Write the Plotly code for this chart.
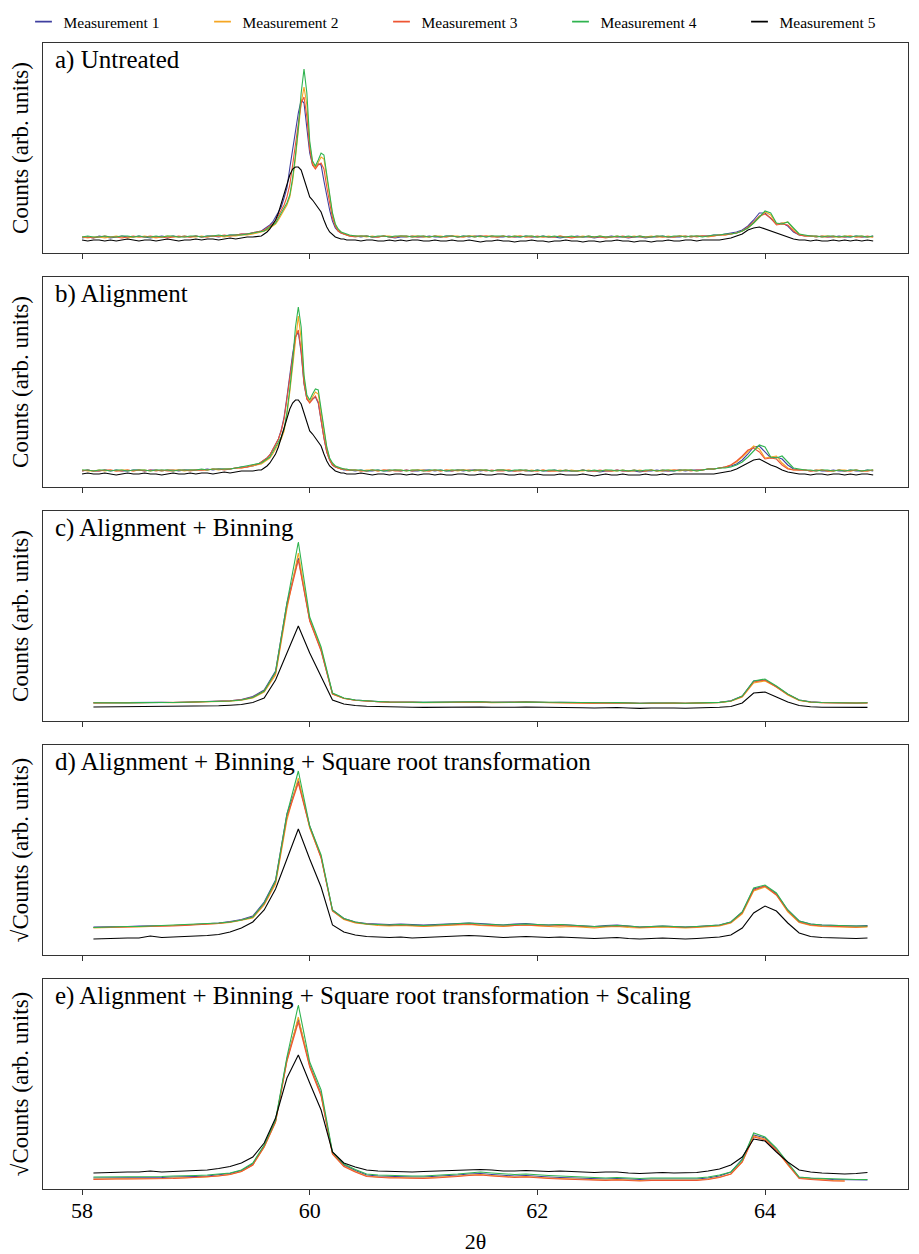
import numpy as np
import plotly.graph_objects as go

# ---------------- labels / categories ----------------
SERIES = ["Measurement 1", "Measurement 2", "Measurement 3", "Measurement 4", "Measurement 5"]
COLORS = ["#3f3f9f", "#f5a623", "#ee5533", "#2fb34f", "#000000"]
PANEL_TITLES = [
    "a) Untreated",
    "b) Alignment",
    "c) Alignment + Binning",
    "d) Alignment + Binning + Square root transformation",
    "e) Alignment + Binning + Square root transformation + Scaling",
]
Y_TITLES = ["Counts (arb. units)", "Counts (arb. units)", "Counts (arb. units)",
            "√Counts (arb. units)", "√Counts (arb. units)"]
X_TITLE = "2θ"
X_TICKS = [58, 60, 62, 64]

# 2theta grids: raw (finer around the main peak) and binned (0.1 step)
TWO_THETA_RAW = np.round(np.concatenate([
    np.arange(58.0, 59.56, 0.05),     # 32
    np.arange(59.575, 60.33, 0.025),  # 31
    np.arange(60.35, 64.96, 0.05),    # 93
]), 3)
TWO_THETA_BIN = np.round(np.arange(58.1, 64.95, 0.1), 2)  # 69

# ---------------- a) Untreated ----------------
A_M1 = ([15, 16, 15, 17, 16, 15, 16, 17, 16, 16,
         17, 16, 15, 16, 17, 16, 17, 16, 17, 16,
         17, 16, 17, 17, 16, 17, 18, 18, 19, 19,
         20, 21]
        + [22, 24, 26, 28, 31, 36, 41, 46, 55, 65,
           85, 105, 122, 140, 153, 150, 125, 100, 88, 86,
           89, 88, 72, 56, 43, 32, 25, 22, 20, 19,
           18]
        + [17, 17, 16, 17, 16, 16, 17, 16, 15, 16,
           16, 17, 16, 16, 17, 16, 16, 17, 17, 16,
           17, 16, 17, 17, 16, 17, 16, 16, 17, 16,
           16, 17, 16, 16, 17, 16, 16, 15, 16, 16,
           17, 16, 16, 15, 16, 16, 17, 16, 16, 15,
           16, 16, 15, 16, 16, 17, 16, 16, 16, 17,
           16, 17, 17, 17, 18, 18, 19, 20, 21, 23,
           27, 33, 40, 40, 34, 29, 30, 27, 21, 18,
           17, 17, 16, 17, 16, 16, 17, 16, 16, 17,
           16, 16, 17])
A_M2 = ([16, 15, 16, 16, 15, 16, 17, 16, 15, 16,
         16, 17, 16, 15, 16, 17, 16, 16, 17, 16,
         16, 17, 16, 17, 17, 16, 17, 17, 18, 18,
         19, 20]
        + [21, 22, 23, 25, 27, 29, 33, 38, 42, 48,
           56, 72, 95, 120, 150, 166, 148, 108, 90, 85,
           90, 96, 94, 75, 56, 39, 28, 23, 21, 19,
           18]
        + [17, 17, 17, 16, 17, 16, 17, 17, 16, 17,
           16, 17, 17, 16, 16, 17, 17, 16, 17, 17,
           16, 17, 17, 16, 17, 17, 16, 17, 16, 17,
           17, 16, 17, 16, 16, 17, 16, 17, 16, 16,
           16, 17, 16, 16, 17, 16, 16, 17, 16, 16,
           17, 16, 16, 17, 16, 16, 17, 16, 17, 17,
           16, 17, 17, 16, 17, 18, 18, 19, 20, 22,
           25, 30, 36, 41, 38, 29, 30, 31, 24, 19,
           17, 17, 16, 17, 17, 16, 16, 17, 17, 16,
           17, 16, 16])
A_M3 = ([16, 16, 15, 16, 17, 16, 16, 15, 16, 17,
         16, 16, 17, 16, 16, 15, 16, 17, 16, 16,
         17, 16, 16, 17, 17, 18, 17, 18, 19, 19,
         20, 21]
        + [22, 23, 25, 27, 29, 32, 37, 42, 48, 56,
           68, 88, 110, 132, 150, 156, 136, 104, 88, 84,
           88, 90, 84, 66, 49, 35, 27, 22, 20, 19,
           18]
        + [17, 16, 17, 17, 16, 16, 17, 16, 16, 17,
           17, 16, 16, 17, 16, 17, 16, 16, 17, 16,
           16, 17, 16, 17, 17, 16, 16, 17, 16, 16,
           17, 16, 16, 17, 16, 16, 16, 17, 16, 15,
           16, 16, 17, 16, 16, 15, 16, 16, 17, 16,
           16, 17, 16, 16, 17, 16, 16, 16, 17, 16,
           17, 16, 17, 17, 17, 18, 18, 19, 20, 22,
           26, 31, 37, 39, 35, 28, 29, 28, 22, 18,
           17, 17, 17, 16, 16, 17, 16, 16, 17, 16,
           16, 17, 16])
A_M4 = ([16, 17, 16, 16, 17, 16, 16, 17, 17, 16,
         17, 16, 16, 17, 16, 17, 17, 16, 16, 17,
         17, 16, 17, 17, 18, 17, 18, 18, 18, 19,
         20, 21]
        + [21, 22, 24, 26, 28, 30, 35, 40, 44, 50,
           58, 75, 98, 125, 160, 184, 160, 112, 92, 87,
           93, 100, 98, 78, 58, 40, 29, 24, 21, 20,
           19]
        + [18, 17, 17, 17, 16, 17, 17, 16, 17, 17,
           17, 16, 17, 17, 16, 17, 16, 17, 17, 16,
           17, 17, 16, 17, 16, 17, 17, 17, 16, 17,
           16, 17, 17, 16, 17, 16, 17, 16, 16, 17,
           16, 16, 17, 16, 17, 16, 16, 17, 16, 17,
           16, 17, 16, 16, 17, 17, 16, 17, 17, 16,
           17, 17, 16, 17, 18, 18, 19, 19, 20, 22,
           25, 30, 36, 42, 40, 30, 29, 31, 25, 19,
           18, 17, 17, 16, 17, 17, 16, 17, 16, 17,
           17, 16, 17])
A_M5 = ([13, 12, 13, 13, 12, 13, 12, 13, 14, 13,
         12, 13, 13, 12, 13, 14, 13, 12, 13, 13,
         14, 13, 14, 14, 13, 14, 15, 14, 15, 16,
         16, 17]
        + [17, 19, 21, 24, 28, 33, 40, 50, 58, 68,
           78, 84, 86, 86, 83, 74, 64, 56, 53, 49,
           46, 41, 33, 26, 21, 18, 16, 15, 14, 14,
           13]
        + [13, 13, 12, 13, 13, 12, 12, 13, 12, 13,
           12, 13, 13, 12, 12, 13, 12, 12, 13, 12,
           12, 13, 12, 11, 12, 12, 13, 12, 12, 11,
           12, 12, 13, 12, 12, 11, 12, 12, 13, 12,
           12, 11, 12, 12, 11, 12, 12, 13, 12, 12,
           11, 12, 12, 11, 12, 12, 13, 12, 12, 13,
           13, 12, 13, 13, 13, 13, 14, 15, 17, 19,
           23, 25, 26, 24, 22, 20, 18, 16, 14, 13,
           13, 12, 13, 12, 12, 13, 12, 13, 12, 13,
           12, 13, 12])

# ---------------- b) Alignment ----------------
B_M1 = ([16, 17, 16, 16, 17, 16, 17, 16, 16, 17,
         17, 16, 17, 17, 16, 17, 17, 16, 17, 17,
         17, 17, 18, 17, 18, 18, 18, 19, 20, 20,
         21, 23]
        + [25, 27, 29, 32, 37, 42, 48, 57, 70, 90,
           112, 133, 150, 155, 134, 103, 88, 85, 88, 90,
           84, 66, 49, 35, 27, 22, 20, 19, 18, 17,
           17]
        + [17, 16, 17, 16, 16, 17, 16, 16, 17, 16,
           17, 16, 16, 17, 17, 16, 17, 16, 16, 17,
           16, 17, 17, 16, 17, 16, 17, 17, 16, 16,
           17, 16, 16, 17, 16, 16, 17, 16, 16, 16,
           16, 17, 16, 16, 15, 16, 16, 17, 16, 16,
           16, 15, 16, 16, 17, 16, 16, 16, 17, 16,
           17, 17, 17, 18, 18, 19, 20, 21, 23, 27,
           33, 40, 41, 35, 29, 30, 28, 22, 18, 17,
           17, 16, 17, 16, 16, 17, 16, 16, 17, 16,
           16, 17, 16])
B_M2 = ([17, 16, 16, 17, 16, 17, 16, 17, 17, 16,
         17, 17, 16, 17, 16, 17, 17, 17, 16, 17,
         17, 17, 17, 18, 17, 18, 18, 19, 19, 20,
         21, 22]
        + [23, 25, 27, 29, 33, 38, 42, 48, 56, 72,
           95, 120, 150, 171, 148, 108, 90, 85, 90, 95,
           93, 75, 56, 39, 28, 23, 21, 19, 18, 18,
           17]
        + [17, 17, 16, 17, 17, 16, 17, 16, 17, 17,
           16, 17, 17, 17, 16, 17, 16, 17, 17, 16,
           17, 17, 16, 17, 17, 16, 17, 17, 17, 16,
           17, 16, 17, 16, 17, 16, 16, 17, 16, 17,
           16, 16, 17, 16, 16, 17, 16, 16, 17, 16,
           16, 17, 16, 17, 16, 16, 17, 17, 16, 17,
           17, 16, 17, 18, 18, 19, 20, 22, 25, 30,
           36, 41, 38, 29, 30, 31, 24, 19, 17, 17,
           17, 16, 17, 17, 16, 16, 17, 17, 16, 17,
           16, 16, 17])
B_M3 = ([16, 17, 16, 16, 17, 17, 16, 16, 17, 16,
         17, 16, 17, 16, 17, 16, 16, 17, 17, 16,
         17, 17, 17, 18, 18, 17, 18, 19, 19, 20,
         22, 23]
        + [25, 27, 29, 32, 37, 42, 48, 56, 68, 88,
           110, 132, 150, 157, 136, 104, 88, 84, 88, 91,
           85, 66, 49, 35, 27, 22, 20, 19, 18, 18,
           17]
        + [17, 17, 16, 16, 17, 16, 17, 17, 16, 16,
           17, 16, 17, 16, 16, 17, 16, 17, 16, 17,
           17, 16, 17, 17, 16, 17, 16, 16, 17, 16,
           16, 17, 16, 16, 17, 16, 16, 16, 17, 16,
           16, 17, 16, 16, 17, 16, 16, 17, 16, 16,
           17, 16, 16, 17, 16, 17, 16, 17, 17, 17,
           16, 17, 17, 18, 18, 19, 20, 22, 26, 31,
           37, 39, 35, 28, 29, 28, 22, 18, 17, 17,
           17, 16, 16, 17, 16, 16, 17, 16, 16, 17,
           16, 16, 17])
B_M4 = ([17, 17, 16, 17, 17, 16, 17, 17, 16, 17,
         17, 17, 16, 17, 17, 17, 16, 17, 17, 17,
         17, 18, 17, 18, 18, 18, 18, 19, 20, 21,
         22, 23]
        + [24, 26, 28, 30, 35, 40, 44, 50, 58, 75,
           98, 125, 160, 180, 160, 112, 92, 87, 93, 98,
           97, 78, 58, 40, 29, 24, 21, 20, 19, 18,
           18]
        + [17, 17, 17, 16, 17, 17, 16, 17, 17, 17,
           16, 17, 17, 16, 17, 17, 17, 16, 17, 17,
           17, 16, 17, 17, 17, 16, 17, 17, 16, 17,
           17, 17, 16, 17, 16, 17, 17, 16, 17, 16,
           16, 17, 16, 17, 16, 17, 17, 16, 17, 16,
           17, 16, 17, 17, 16, 17, 17, 16, 17, 17,
           17, 16, 17, 18, 18, 19, 19, 20, 22, 25,
           30, 36, 42, 40, 30, 29, 31, 25, 19, 18,
           17, 17, 16, 17, 17, 16, 17, 16, 17, 17,
           16, 17, 17])
B_M5 = ([13, 14, 13, 13, 14, 13, 12, 13, 14, 13,
         13, 14, 13, 13, 12, 13, 14, 13, 13, 14,
         13, 14, 14, 13, 14, 15, 14, 15, 16, 16,
         16, 17]
        + [17, 19, 21, 24, 28, 33, 40, 50, 58, 68,
           78, 84, 87, 87, 83, 74, 64, 56, 53, 49,
           46, 41, 33, 26, 21, 18, 16, 15, 14, 14,
           13]
        + [13, 13, 14, 13, 12, 13, 13, 12, 13, 13,
           12, 13, 12, 13, 13, 12, 13, 12, 12, 13,
           13, 12, 12, 13, 12, 12, 13, 13, 12, 12,
           13, 12, 12, 13, 12, 12, 12, 13, 12, 12,
           12, 13, 12, 11, 12, 13, 12, 12, 13, 12,
           12, 12, 13, 12, 12, 13, 12, 13, 13, 13,
           13, 13, 13, 13, 13, 14, 15, 16, 18, 21,
           24, 27, 28, 25, 22, 20, 17, 15, 14, 13,
           13, 12, 13, 13, 12, 13, 13, 12, 13, 12,
           13, 13, 12])

# ---------------- c) Alignment + Binning ----------------
C_M1 = [18.1, 18.3, 18.2, 18.2, 18.4, 18.4, 18.6, 18.5, 18.9, 19.1,
        19.3, 19.7, 20.3, 21.5, 24.5, 31, 50, 118, 163, 101,
        71, 27.5, 22.8, 20.9, 20.0, 19.4, 19.0, 19.3, 18.9, 18.7,
        18.9, 19.1, 19.3, 19.5, 19.1, 18.7, 18.5, 18.9, 19.1, 18.7,
        18.5, 18.7, 18.4, 18.1, 17.9, 18.2, 18.5, 18.0, 17.7, 18.0,
        18.2, 18.0, 17.8, 18.0, 18.2, 18.6, 20.2, 25, 40, 41,
        34.5, 26.8, 21, 19.1, 18.5, 18.2, 18.0, 18.0, 18.2]
C_M2 = [18.0, 18.2, 18.1, 18.3, 18.2, 18.4, 18.5, 18.4, 18.7, 18.9,
        19.0, 19.4, 19.8, 20.8, 23.0, 29, 46, 112, 168, 101,
        72, 27, 22.5, 20.8, 19.8, 19.2, 18.8, 19.0, 18.6, 18.4,
        18.6, 18.8, 19.0, 19.2, 18.8, 18.4, 18.2, 18.6, 18.8, 18.5,
        18.2, 18.0, 18.3, 17.8, 17.6, 18.0, 18.2, 17.8, 17.5, 17.8,
        18.0, 17.8, 17.6, 17.8, 18.0, 18.4, 19.8, 24, 38, 40,
        34, 26, 20.5, 18.8, 18.2, 18.0, 17.8, 17.8, 18.0]
C_M3 = [18.2, 18.1, 18.3, 18.2, 18.3, 18.5, 18.4, 18.6, 18.8, 19.0,
        19.3, 19.6, 20.2, 21.2, 23.8, 30, 48, 115, 161, 100,
        70, 27, 22.8, 20.8, 19.9, 19.3, 18.9, 19.1, 18.7, 18.5,
        18.7, 18.9, 19.2, 19.4, 19.0, 18.6, 18.4, 18.7, 18.9, 18.6,
        18.4, 18.6, 18.3, 18.0, 17.8, 18.1, 18.3, 17.9, 17.6, 17.9,
        18.1, 17.9, 17.7, 17.9, 18.1, 18.5, 20, 24.5, 39, 41,
        34, 26.5, 20.8, 19.0, 18.4, 18.1, 17.9, 17.9, 18.1]
C_M4 = [18.2, 18.0, 18.3, 18.1, 18.4, 18.3, 18.6, 18.5, 18.8, 19.0,
        19.2, 19.5, 20.0, 21.0, 23.5, 30, 49, 118, 179, 104,
        74, 28, 23, 21, 20, 19.5, 19, 19.2, 18.8, 18.6,
        18.8, 19.0, 19.4, 19.6, 19.2, 18.8, 18.6, 18.8, 19.0, 18.8,
        18.6, 18.8, 18.6, 18.2, 18.0, 18.2, 18.4, 18.0, 17.8, 18.0,
        18.2, 18.0, 17.8, 18.0, 18.2, 18.6, 20, 25, 40, 42,
        35, 27, 21, 19, 18.5, 18.2, 18.0, 18.0, 18.2]
C_M5 = [14.0, 14.1, 14.0, 14.2, 14.1, 14.3, 14.4, 14.2, 14.5, 14.6,
        14.8, 15.2, 15.8, 16.5, 18.5, 23, 41, 68, 95, 68,
        44, 21, 17, 15.5, 14.8, 14.4, 14.0, 14.2, 13.8, 13.6,
        13.8, 14.0, 14.2, 14.4, 14.0, 13.8, 13.6, 13.8, 14.0, 13.7,
        13.5, 13.7, 13.4, 13.2, 13.0, 13.3, 13.5, 13.0, 12.6, 13.0,
        13.2, 13.0, 12.8, 13.0, 13.3, 13.7, 14.5, 18, 28, 29,
        24, 19, 15.5, 14.2, 13.8, 13.6, 13.5, 13.5, 13.6]

# ---------------- d) + Square root transformation ----------------
D_M1 = [28, 28, 28.5, 28.5, 29, 29, 29.5, 29.5, 30, 30.5,
        31, 32, 33.5, 35.5, 39, 53, 75, 141, 174, 129,
        98, 45, 36.5, 33, 31.5, 31, 30.5, 31, 30.5, 30,
        30.5, 31, 31.5, 32, 31.5, 30.5, 30, 31, 31.5, 30.5,
        30, 30.5, 30, 29, 28.5, 29.5, 30, 29, 28, 28.5,
        29, 28.5, 28, 28.5, 29, 30, 33, 43, 66, 69,
        61, 45, 34, 31, 30, 29.5, 29, 29, 29.5]
D_M2 = [27, 27.5, 27.5, 28, 28, 28.5, 28.5, 29, 29.5, 30,
        30.5, 31.5, 32.5, 34.5, 37, 50, 71, 135, 177, 127,
        98, 44, 35.5, 32, 30.5, 29.5, 29, 29.5, 29, 28.5,
        29, 29.5, 30, 30.5, 29.5, 29, 28.5, 29.5, 30, 29,
        28.5, 28, 28.5, 27.5, 27, 28, 28.5, 27.5, 27, 27.5,
        28, 27.5, 27, 27.5, 28, 29, 32, 41, 64, 68,
        60, 43, 32.5, 29.5, 28.5, 28, 27.5, 27.5, 28]
D_M3 = [27.5, 27.5, 28, 28, 28.5, 28.5, 29, 29, 29.5, 30,
        31, 31.5, 33, 35, 38, 51, 73, 138, 172, 128,
        97, 44, 36, 32.5, 31, 30, 29.5, 30, 29.5, 29,
        29.5, 30, 30.5, 31, 30, 29.5, 29, 29.5, 30, 29.5,
        29, 29.5, 29, 28.5, 28, 28.5, 29, 28.5, 27.5, 28,
        28.5, 28, 27.5, 28, 28.5, 29.5, 32.5, 42, 65, 69,
        60, 44, 33, 30, 29, 28.5, 28, 28, 28.5]
D_M4 = [27.5, 28, 28, 28.5, 28.5, 29, 29, 29.5, 30, 30.5,
        31, 32, 33, 35, 38, 52, 74, 141, 184, 129,
        100, 45, 36.5, 33, 31, 30.5, 30, 30.5, 30, 29.5,
        30, 30.5, 31.5, 32, 31, 30.5, 30, 30.5, 31, 30.5,
        30, 30.5, 30, 29, 28.5, 29, 29.5, 29, 28, 28.5,
        29, 28.5, 28, 28.5, 29, 30, 33, 43, 67, 70,
        62, 45, 34, 31, 30, 29.5, 29, 29, 29]
D_M5 = [16, 16.5, 16.5, 17, 17, 19, 17.5, 18, 18, 18.5,
        19.5, 20.5, 23, 27, 33, 45, 66, 96, 126, 96,
        68, 30, 23, 20, 18.5, 18, 17.5, 18, 17, 17.5,
        18, 18.5, 19, 19.5, 19, 18, 17.5, 18, 18.5, 18,
        17.5, 18, 17.5, 17, 16.5, 17, 17.5, 16.5, 16, 16.5,
        17, 16.5, 16, 16.5, 17, 18, 20, 27, 42, 49,
        44, 32, 22, 18.5, 17.5, 17, 16.5, 16.5, 17]

# ---------------- e) + Scaling ----------------
E_M1 = [11, 11, 11.5, 11, 11.5, 11, 11.5, 12, 12, 12.5,
        13, 14, 15.5, 18.5, 25, 43, 68, 130, 170, 124,
        95, 36, 24, 18.5, 14, 13, 12.5, 12.5, 12, 12,
        12.5, 13, 14, 15, 15.5, 14.5, 13.5, 13, 13.5, 12.5,
        12, 11.5, 11, 10.5, 10, 10, 10.5, 10, 9.5, 10,
        10, 9.5, 9.5, 10, 11, 13, 17, 30, 54, 51,
        40, 25, 11.5, 10.5, 10, 9.5, 9.5, 9, 9]
E_M2 = [10, 10, 10.5, 10, 10.5, 10, 10.5, 11, 11, 11.5,
        12, 13, 14.5, 17.5, 24, 42, 67, 128, 172, 123,
        94, 35, 23, 17.5, 13, 12, 11.5, 11.5, 11, 11,
        11.5, 12, 13, 14, 14.5, 13.5, 12.5, 12, 12.5, 11.5,
        11, 10.5, 10, 9.5, 9, 9, 9.5, 9, 8.5, 9,
        9, 8.5, 8.5, 9, 10, 12, 15, 27, 53, 50,
        39, 24, 11, 10, 9, 8.5, 8]
E_M3 = [9.5, 10, 10, 10, 10, 10.5, 10.5, 10.5, 11, 11.5,
        12, 13, 14.5, 17.5, 24, 42, 67, 128, 167, 122,
        93, 35, 22.5, 17, 12.5, 11.5, 11, 11, 10.5, 10.5,
        11, 11.5, 12.5, 13.5, 14, 13, 12, 11.5, 12, 11,
        10.5, 10, 9.5, 9, 8.5, 8.5, 9, 8.5, 8, 8.5,
        8.5, 8, 8, 8.5, 9.5, 11.5, 15, 27, 52, 49,
        38.5, 24, 10.5, 9.5, 8.5, 8, 8]
E_M4 = [12, 12, 12.5, 12, 12.5, 12, 12.5, 13, 13, 13.5,
        14, 15, 16, 19, 26, 44, 69, 132, 184, 127,
        99, 37, 25, 19.5, 15, 14, 13.5, 13.5, 13, 13,
        13.5, 14, 15, 16, 17, 16, 15, 14.5, 15, 14,
        13.5, 13, 12.5, 12, 11.5, 11, 11.5, 11, 10.5, 11,
        11, 10.5, 10.5, 11, 12, 14, 17, 29, 56, 52,
        41, 26, 12, 11, 10.5, 10, 10, 9.5, 9.5]
E_M5 = [16, 16.5, 16.5, 17, 17, 18, 17, 17.5, 17.5, 18,
        19, 20.5, 22.5, 26, 32, 46, 71, 111, 134, 106,
        79, 37, 26, 22, 19, 18, 17.5, 17.5, 17, 17.5,
        18, 18.5, 19, 19.5, 19.5, 19, 18, 18, 18.5, 18,
        17.5, 18, 17.5, 17, 16.5, 17, 17, 16, 15.5, 16,
        16.5, 16, 16, 16.5, 18, 20, 24, 32, 50, 48,
        37, 27, 19, 17, 16, 15.5, 15, 15.5, 16.5]

PANELS = [
    (TWO_THETA_RAW, [A_M1, A_M2, A_M3, A_M4, A_M5]),
    (TWO_THETA_RAW, [B_M1, B_M2, B_M3, B_M4, B_M5]),
    (TWO_THETA_BIN, [C_M1, C_M2, C_M3, C_M4, C_M5]),
    (TWO_THETA_BIN, [D_M1, D_M2, D_M3, D_M4, D_M5]),
    (TWO_THETA_BIN, [E_M1, E_M2, E_M3, E_M4, E_M5]),
]

# ---------------- figure ----------------
# the page body adds an 8px offset, so the figure frame is laid out 8px up/left
OFF = 8
W, H = 919, 1254
ML, MT = 43 - OFF, 43 - OFF
MR = W - (908 - OFF)
MB = H - (1189 - OFF)
PLOT_W = W - ML - MR
PLOT_H = H - MT - MB
PANEL_H, PANEL_GAP = 210, 24
X_RANGE = [57.657, 65.256]
Y_RANGE = [0, 210]
FRAME = "#333333"
FONT = "Liberation Serif, Times New Roman, serif"

fig = go.Figure()

def sfx(p):
    return "" if p == 0 else str(p + 1)

for p, (xs, ys) in enumerate(PANELS):
    for s, y in enumerate(ys):
        fig.add_trace(go.Scatter(
            x=xs[:len(y)], y=y, mode="lines", name=SERIES[s],
            line=dict(color=COLORS[s], width=1.1),
            xaxis="x" + sfx(p), yaxis="y" + sfx(p), showlegend=False,
        ))

# legend entries (short dash symbols)
for s in range(5):
    fig.add_trace(go.Scatter(
        x=[None], y=[None], mode="markers", name=SERIES[s],
        marker=dict(symbol="line-ew", size=12, color=COLORS[s],
                    line=dict(color=COLORS[s], width=1.6)),
        xaxis="x", yaxis="y", showlegend=True,
    ))

layout = dict(
    width=W, height=H,
    margin=dict(l=ML, r=MR, t=MT, b=MB, autoexpand=False),
    plot_bgcolor="white", paper_bgcolor="white",
    font=dict(family=FONT, color="black"),
    showlegend=True,
    legend=dict(orientation="h", x=(15.5 - ML) / PLOT_W, xanchor="left",
                y=1 + (MT - (22 - OFF)) / PLOT_H, yanchor="middle",
                font=dict(size=15.5, family=FONT), itemwidth=30,
                entrywidth=134, entrywidthmode="pixels",
                bgcolor="rgba(0,0,0,0)", borderwidth=0),
    annotations=[],
)

for p in range(5):
    top = MT + p * (PANEL_H + PANEL_GAP)
    bottom = top + PANEL_H
    dom = [(H - MB - bottom) / PLOT_H, (H - MB - top) / PLOT_H]
    last = (p == 4)
    xa = dict(
        range=X_RANGE, domain=[0, 1], anchor="y" + sfx(p), automargin=False,
        showline=True, mirror=True, linecolor=FRAME, linewidth=1,
        ticks="outside", ticklen=5, tickwidth=1, tickcolor=FRAME,
        tickvals=X_TICKS, showticklabels=last, showgrid=False, zeroline=False,
        tickfont=dict(size=22, family=FONT), ticklabelstandoff=-3,
    )
    if last:
        xa["title"] = dict(text=X_TITLE, font=dict(size=22, family=FONT), standoff=11)
    ya = dict(
        range=Y_RANGE, domain=dom, anchor="x" + sfx(p), automargin=False,
        showline=True, mirror=True, linecolor=FRAME, linewidth=1,
        ticks="", showticklabels=False, showgrid=False, zeroline=False,
        title=dict(text=Y_TITLES[p], font=dict(size=23, family=FONT), standoff=9),
    )
    layout["xaxis" + sfx(p)] = xa
    layout["yaxis" + sfx(p)] = ya
    layout["annotations"].append(dict(
        text=PANEL_TITLES[p], xref="x" + sfx(p) + " domain", yref="y" + sfx(p) + " domain",
        x=10 / PLOT_W, y=1 - 17 / PANEL_H, xanchor="left", yanchor="middle",
        showarrow=False, font=dict(size=25, family=FONT, color="black"),
    ))

fig.update_layout(**layout)
fig.write_html("out.html")
